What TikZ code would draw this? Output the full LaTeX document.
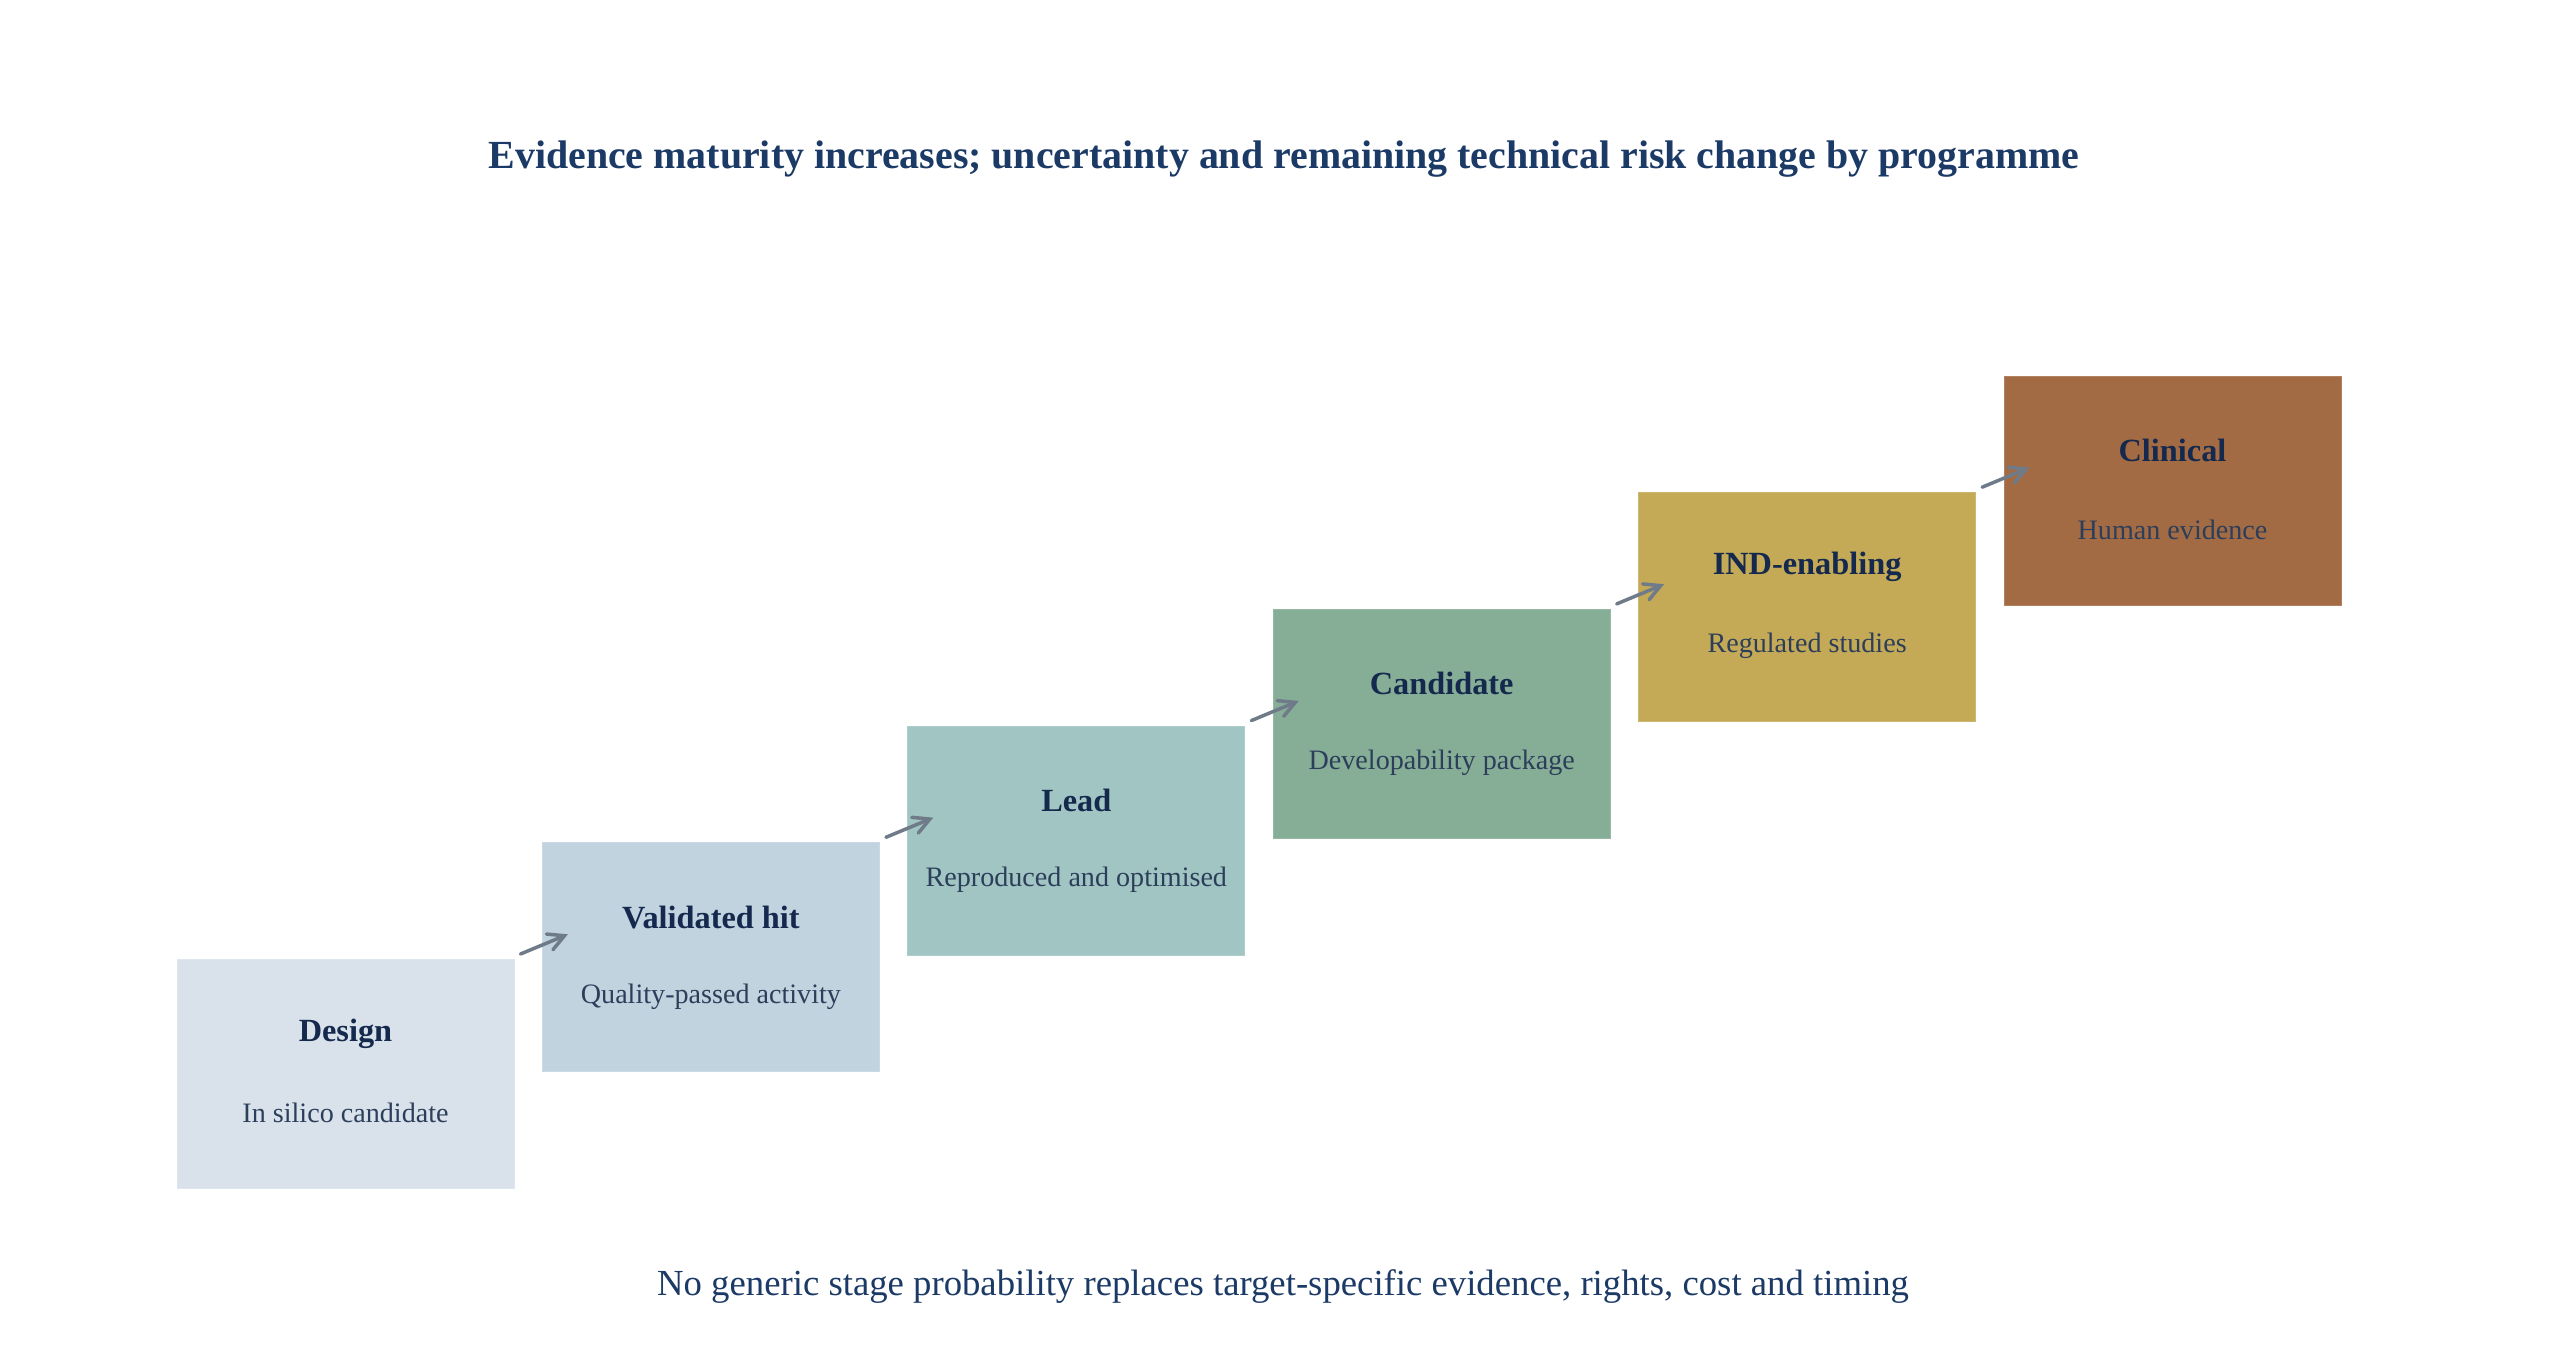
\documentclass[tikz,border=0pt]{standalone}
\usepackage{fontspec}
\setmainfont{Liberation Serif}
\usetikzlibrary{calc,arrows.meta}
\definecolor{titlec}{HTML}{1C3A66}
\definecolor{headc}{HTML}{14294D}
\definecolor{subc}{HTML}{2C3E5A}
\definecolor{arrowc}{HTML}{6F7B88}
\definecolor{cA}{HTML}{D9E2EB}
\definecolor{cB}{HTML}{C1D3DF}
\definecolor{cC}{HTML}{A0C5C2}
\definecolor{cD}{HTML}{86AD96}
\definecolor{cE}{HTML}{C4A957}
\definecolor{cF}{HTML}{A36B44}
\tikzset{
  stagebox/.style={rectangle, fill=#1, draw=#1!85!white, line width=0.1mm,
    minimum width=33.7mm, minimum height=22.9mm, inner sep=0pt},
  stagehead/.style={text=headc, font=\fontsize{9.2}{11}\selectfont\bfseries, inner sep=0pt},
  stagesub/.style={text=subc, font=\fontsize{8}{10}\selectfont, inner sep=0pt},
  flowarrow/.style={draw=arrowc, line width=0.35mm, line cap=round,
    -{Straight Barb[length=1.6mm,width=1.7mm,line cap=round]}},
}
\begin{document}
\begin{tikzpicture}[x=0.1mm,y=-0.1mm]
\useasboundingbox[fill=white] (0,0) rectangle (2568,1344);
\node[text=titlec, font=\fontsize{11.35}{13}\selectfont\bfseries, inner sep=0pt] (title) at (1284,159)
  {Evidence maturity increases; uncertainty and remaining technical risk change by programme};
\node[text=titlec, font=\fontsize{10.45}{12}\selectfont, inner sep=0pt] (foot) at (1283,1287)
  {No generic stage probability replaces target-specific evidence, rights, cost and timing};
\foreach \n/\c/\h/\s [count=\i from 0] in {
  s1/cA/Design/In silico candidate,
  s2/cB/Validated hit/Quality-passed activity,
  s3/cC/Lead/Reproduced and optimised,
  s4/cD/Candidate/Developability package,
  s5/cE/IND-enabling/Regulated studies,
  s6/cF/Clinical/Human evidence}{
  \node[stagebox=\c] (\n) at ({345.5+365.4*\i},{1074-116.7*\i}) {};
  \node[stagehead] (\n h) at ($(\n.center)+(0,-40)$) {\h};
  \node[stagesub] (\n s) at ($(\n.center)+(0,39)$) {\s};
}
\foreach \a/\b in {s1/s2,s2/s3,s3/s4,s4/s5,s5/s6}{
  \draw[flowarrow] ($(\a.north east)+(6,-5)$) -- ($(\b.north west)+(26,92)$);
}
\end{tikzpicture}
\end{document}
